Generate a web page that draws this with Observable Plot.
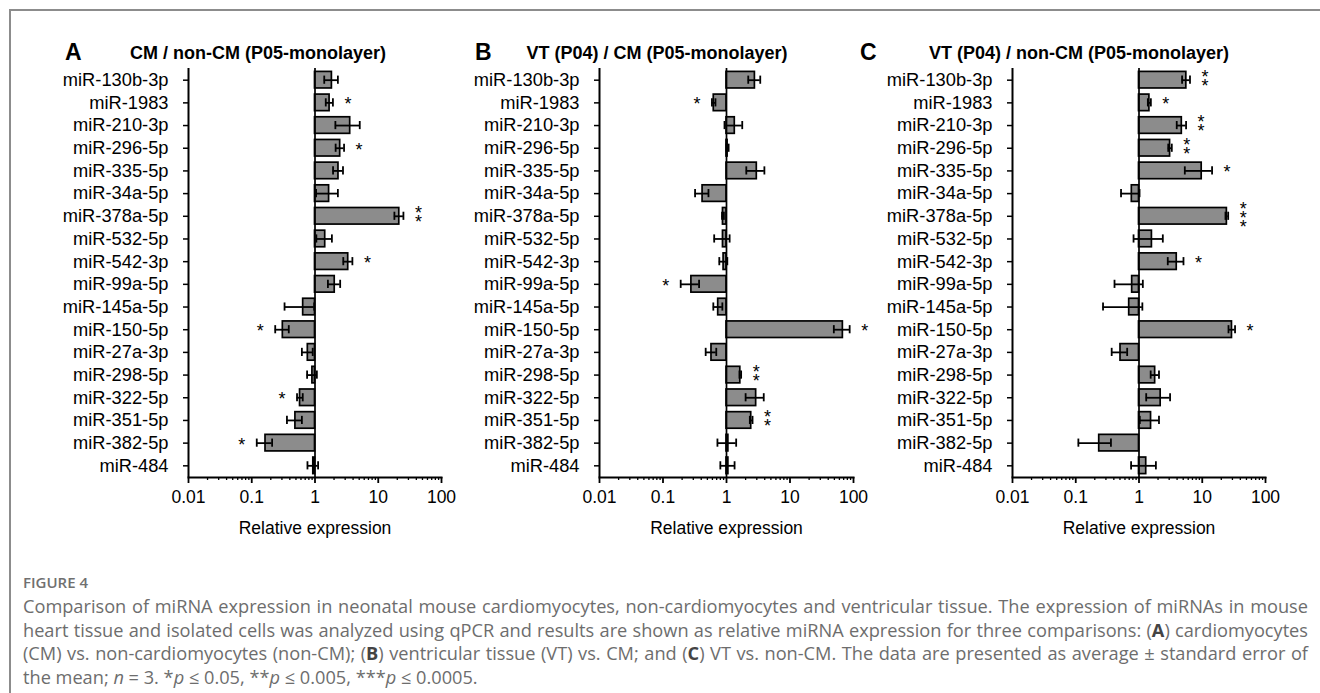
<!DOCTYPE html>
<html>
<head>
<meta charset="utf-8">
<script src="https://cdn.jsdelivr.net/npm/d3@7"></script>
<script src="https://cdn.jsdelivr.net/npm/@observablehq/plot@0.6"></script>
<style>
  body { margin: 0; background: #fff; }
  #root { position: relative; width: 1320px; height: 693px; overflow: hidden; background: #fff; font-family: "Liberation Sans", Arial, sans-serif; color: #000; }
  .hline { position: absolute; left: 9px; top: 9px; right: 0; height: 1.5px; background: #8c8c8c; }
  .vline { position: absolute; left: 9px; top: 9px; bottom: 0; width: 1.5px; background: #8c8c8c; }
  .plotbox { position: absolute; top: 0; }
  .plotbox svg { overflow: visible; }
  .letter { position: absolute; font-weight: bold; font-size: 23px; line-height: 1; }
  .title { position: absolute; font-weight: bold; font-size: 18px; line-height: 1; white-space: nowrap; transform: translateX(-50%); }
  #cap { position: absolute; left: 23px; width: 1285px; top: 0; font-family: "Open Sans", "Noto Sans", sans-serif; color: #6d6d6d; }
  #cap .fig { position: absolute; left: 0; top: 572px; font-size: 15px; line-height: 20px; font-weight: 600; color: #707070; }
  #cap .lines { position: absolute; left: 0; top: 595px; width: 1285px; font-size: 16px; line-height: 23.5px; }
  #cap .ln { white-space: normal; }
  #cap .j { text-align: justify; text-align-last: justify; }
  #cap.measure .j { text-align: left; text-align-last: left; }
  #cap b { color: #444; }
</style>
</head>
<body>
<div id="root">
  <div class="hline"></div>
  <div class="vline"></div>
  <div class="letter" style="left:65px; top:41px;">A</div>
  <div class="title" style="left:258px; top:44px;">CM / non-CM (P05-monolayer)</div>
  <div class="letter" style="left:475px; top:41px;">B</div>
  <div class="title" style="left:657px; top:44px;">VT (P04) / CM (P05-monolayer)</div>
  <div class="letter" style="left:860px; top:41px;">C</div>
  <div class="title" style="left:1079px; top:44px;">VT (P04) / non-CM (P05-monolayer)</div>
  <div id="pA" class="plotbox" style="left:0px;"></div>
  <div id="pB" class="plotbox" style="left:430px;"></div>
  <div id="pC" class="plotbox" style="left:860px;"></div>
  <div id="cap">
    <div class="fig">FIGURE 4</div>
    <div class="lines">
      <div class="ln j">Comparison of miRNA expression in neonatal mouse cardiomyocytes, non-cardiomyocytes and ventricular tissue. The expression of miRNAs in mouse</div>
      <div class="ln j">heart tissue and isolated cells was analyzed using qPCR and results are shown as relative miRNA expression for three comparisons: (<b>A</b>) cardiomyocytes</div>
      <div class="ln j">(CM) vs. non-cardiomyocytes (non-CM); (<b>B</b>) ventricular tissue (VT) vs. CM; and (<b>C</b>) VT vs. non-CM. The data are presented as average ± standard error of</div>
      <div class="ln">the mean; <i>n</i> = 3. *<i>p</i> ≤ 0.05, **<i>p</i> ≤ 0.005, ***<i>p</i> ≤ 0.0005.</div>
    </div>
  </div>
</div>
<script>
// ---- data ----
const mirs = ["miR-130b-3p","miR-1983","miR-210-3p","miR-296-5p","miR-335-5p","miR-34a-5p","miR-378a-5p","miR-532-5p","miR-542-3p","miR-99a-5p","miR-145a-5p","miR-150-5p","miR-27a-3p","miR-298-5p","miR-322-5p","miR-351-5p","miR-382-5p","miR-484"];

const meanA = [1.85, 1.7, 3.6, 2.5, 2.35, 1.67, 21.5, 1.45, 3.35, 2.05, 0.65, 0.31, 0.77, 0.91, 0.58, 0.49, 0.165, 0.94];
const seA   = [0.45, 0.22, 1.5, 0.38, 0.42, 0.63, 3.5, 0.4, 0.55, 0.45, 0.32, 0.075, 0.15, 0.16, 0.06, 0.13, 0.045, 0.18];
const starsA = ["", "*", "", "*", "", "", "**", "", "*", "", "", "*", "", "", "*", "", "*", ""];

const meanB = [2.8, 0.63, 1.35, 1.04, 3.0, 0.42, 0.88, 0.88, 0.9, 0.28, 0.74, 68, 0.58, 1.65, 2.93, 2.45, 1.07, 1.07];
const seB   = [0.6, 0.04, 0.42, 0.04, 0.95, 0.1, 0.03, 0.24, 0.13, 0.09, 0.12, 19, 0.11, 0.05, 0.93, 0.12, 0.35, 0.27];
const starsB = ["", "*", "", "", "", "", "", "", "", "*", "", "*", "", "**", "", "**", "", ""];

const meanC = [5.6, 1.46, 4.75, 3.1, 9.8, 0.77, 24.5, 1.6, 3.95, 0.78, 0.7, 29.5, 0.51, 1.8, 2.2, 1.55, 0.235, 1.3];
const seC   = [0.8, 0.08, 0.8, 0.2, 4.5, 0.25, 1.2, 0.78, 1.1, 0.37, 0.43, 3.5, 0.14, 0.27, 0.9, 0.52, 0.125, 0.55];
const starsC = ["**", "*", "**", "**", "*", "", "***", "", "*", "", "", "*", "", "", "", "", "", ""];

const majorTicks = [0.01, 0.1, 1, 10, 100];
const tickLabels = ["0.01", "0.1", "1", "10", "100"];
const minorMultipliers = [2, 3, 4, 5, 6, 7, 8, 9];
const minorTicks = majorTicks.slice(0, -1).flatMap(t => minorMultipliers.map(m => +(t * m).toPrecision(3)));

const xLabel = "Relative expression";

function panel(mean, se, stars, width, ml, mr) {
  const data = mirs.map((m, i) => ({mir: m, v: mean[i], lo: mean[i] - se[i], hi: mean[i] + se[i], star: stars[i]}));
  const starR = data.filter(d => d.star && d.v >= 1);
  const starL = data.filter(d => d.star && d.v < 1);
  const starText = d => d.star.split("").join("\n");
  return Plot.plot({
    width, height: 560,
    marginLeft: ml, marginRight: mr, marginTop: 68, marginBottom: 83,
    style: {fontFamily: "Liberation Sans, Arial, sans-serif", fontSize: "17.5px", color: "#000", background: "transparent", overflow: "visible"},
    x: {type: "log", domain: [0.01, 100], axis: null},
    y: {domain: mirs, paddingInner: 0.27, paddingOuter: 0.15, round: false, axis: null},
    marks: [
      Plot.barX(data, {y: "mir", x1: () => 1, x2: "v", fill: "#8c8c8c", stroke: "#000", strokeWidth: 1.7}),
      Plot.ruleX([1], {stroke: "#000", strokeWidth: 1.7}),
      Plot.ruleY(data, {y: "mir", x1: "lo", x2: "hi", stroke: "#000", strokeWidth: 1.8}),
      Plot.tickX(data, {y: "mir", x: "lo", insetTop: 4.2, insetBottom: 4.2, stroke: "#000", strokeWidth: 1.8}),
      Plot.tickX(data, {y: "mir", x: "hi", insetTop: 4.2, insetBottom: 4.2, stroke: "#000", strokeWidth: 1.8}),
      Plot.text(starR, {y: "mir", x: "hi", text: starText, dx: 15, dy: 4.5, lineHeight: 0.5, lineAnchor: "middle", fontSize: 18}),
      Plot.text(starL, {y: "mir", x: "lo", text: starText, dx: -15, dy: 4.5, lineHeight: 0.5, lineAnchor: "middle", fontSize: 18}),
      Plot.ruleX([0.01], {stroke: "#000", strokeWidth: 2}),
      Plot.frame({anchor: "bottom", stroke: "#000", strokeWidth: 2}),
      Plot.axisX(minorTicks, {tickSize: 3, tickFormat: () => "", label: null, strokeWidth: 1.3}),
      Plot.axisX(majorTicks, {tickSize: 6, tickPadding: 7, tickFormat: d => tickLabels[majorTicks.indexOf(d)], fontSize: 17.5, strokeWidth: 1.8,
        label: xLabel, labelAnchor: "center", labelArrow: "none", labelOffset: 56}),
      Plot.axisY({tickSize: 5, tickPadding: 15, label: null, fontSize: 18.3, strokeWidth: 1.5})
    ]
  });
}

document.getElementById("pA").append(panel(meanA, seA, starsA, 470, 188, 29));
document.getElementById("pB").append(panel(meanB, seB, starsB, 460, 169, 37));
document.getElementById("pC").append(panel(meanC, seC, starsC, 460, 152, 55));

// size caption font so the justified lines fill the width with natural spacing
(function fitCaption() {
  const cap = document.getElementById("cap");
  const box = cap.querySelector(".lines");
  const target = 1285;
  const spans = [];
  let maxW = 0;
  cap.classList.add("measure");
  cap.querySelectorAll(".ln").forEach(ln => {
    const s = document.createElement("span");
    s.style.whiteSpace = "nowrap";
    while (ln.firstChild) s.appendChild(ln.firstChild);
    ln.appendChild(s);
    spans.push(s);
    if (ln.classList.contains("j")) maxW = Math.max(maxW, s.getBoundingClientRect().width);
  });
  if (maxW > 0) {
    const fs = Math.min(19.5, 16 * (target - 10) / maxW);
    box.style.fontSize = fs + "px";
  }
  cap.classList.remove("measure");
  spans.forEach(s => { s.style.whiteSpace = "normal"; s.style.display = "contents"; });
})();
</script>
</body>
</html>
